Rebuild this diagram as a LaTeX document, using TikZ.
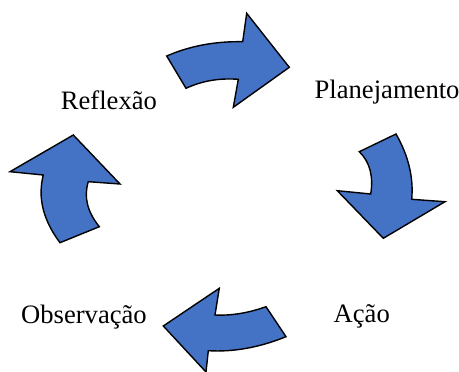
\documentclass[tikz,border=0pt]{standalone}
\usepackage{fontspec}
\setmainfont{Liberation Serif}
\definecolor{arrowblue}{HTML}{4472C4}
\begin{document}
\begin{tikzpicture}[x=1pt,y=-1pt,
  cyclearrow/.style={fill=arrowblue, draw=black, line width=1.4pt, line join=miter, miter limit=10},
  lbl/.style={anchor=base west, inner sep=0pt, font=\fontsize{26.6}{30}\selectfont}]
\useasboundingbox (0,0) rectangle (459,372);
% top arrow (Reflexao -> Planejamento)
\draw[cyclearrow] (166.7,56) .. controls (189.6,46) and (214.9,41.2) .. (242.7,41.7)
  -- (246.7,13.3) -- (289.3,67.3) -- (233.3,107.3) -- (238.3,79.3)
  .. controls (219.3,77.9) and (201.9,80.9) .. (186,88.3) -- cycle;
% right arrow (Planejamento -> Acao)
\draw[cyclearrow] (359.3,151.7) -- (396,134)
  .. controls (408.5,155.8) and (413.7,177.6) .. (411.7,199.3)
  -- (445,201.7) -- (383.3,238.3) -- (337.3,190.7) -- (370.7,194)
  .. controls (373.6,176.1) and (369.8,162) .. cycle;
% bottom arrow (Acao -> Observacao)
\draw[cyclearrow] (266,306.7) -- (286,336.7)
  .. controls (259.3,347.5) and (233.4,352.2) .. (208.3,350.7)
  -- (206,372) -- (163.3,326) -- (219.3,288.3) -- (215,315)
  .. controls (231.3,315.8) and (248.3,313) .. cycle;
% left arrow (Observacao -> Reflexao)
\draw[cyclearrow] (60,242.7) -- (99.3,226.7)
  .. controls (87.2,211.7) and (83.6,196.7) .. (88.3,181.7)
  -- (120,184) -- (73.3,135) -- (10,171.7) -- (43.3,175)
  .. controls (37.5,197.7) and (43.1,220.2) .. cycle;
% labels
\node[lbl] (reflexao) at (60.7,109) {Reflexão};
\node[lbl] (planejamento) at (314.5,98) {Planejamento};
\node[lbl] (acao) at (333.5,322) {Ação};
\node[lbl] (observacao) at (21,323) {Observação};
\end{tikzpicture}
\end{document}
